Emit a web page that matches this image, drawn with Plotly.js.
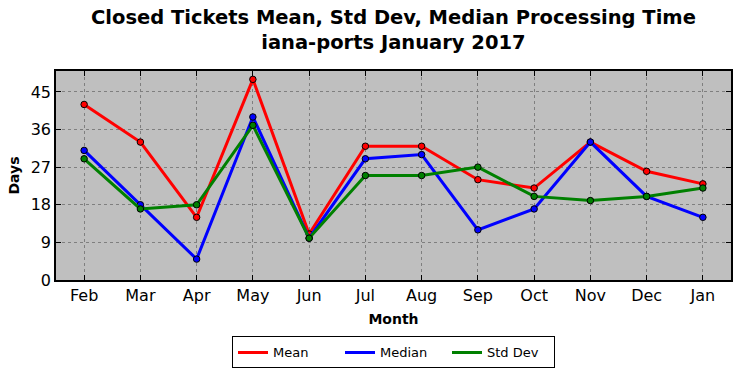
<!DOCTYPE html>
<html>
<head>
<meta charset="utf-8">
<script src="https://cdn.plot.ly/plotly-3.0.1.min.js"></script>
<style>html,body{margin:0;padding:0;background:#fff;}#chart{width:741px;height:378px;}</style>
</head>
<body>
<div id="chart"></div>
<script>
const months = ["Feb","Mar","Apr","May","Jun","Jul","Aug","Sep","Oct","Nov","Dec","Jan"];
const meanVals = [42,33,15,48,11,32,32,24,22,33,26,23];
const medianVals = [31,18,5,39,10,29,30,12,17,33,20,15];
const stdVals = [29,17,18,37,10,25,25,27,20,19,20,22];
const yTicks = [0,9,18,27,36,45];
const names = ['Mean','Median','Std Dev'];
const colors = ['#ff0000','#0000ff','#008000'];
const titleText = '<b>Closed Tickets Mean, Std Dev, Median Processing Time<br>iana-ports January 2017</b>';

function series(name, vals, color){
  return {
    x: months.map((m,i)=>i), y: vals, name: name, type: 'scatter', mode: 'lines+markers',
    line: {color: color, width: 3}, showlegend: false,
    marker: {color: color, size: 6.5, line: {color: '#000', width: 1}}
  };
}
function legendEntry(name, color){
  return {x: [null], y: [null], name: name, type: 'scatter', mode: 'lines', line: {color: color, width: 3}, showlegend: true};
}
const data = [series(names[0], meanVals, colors[0]), series(names[1], medianVals, colors[1]), series(names[2], stdVals, colors[2]),
  legendEntry(names[0], colors[0]), legendEntry(names[1], colors[1]), legendEntry(names[2], colors[2])];
const font = "DejaVu Sans, sans-serif";
const layout = {
  width: 741, height: 378,
  margin: {l:56, r:10, t:71, b:92},
  paper_bgcolor: '#ffffff', plot_bgcolor: '#bfbfbf',
  font: {family: font, color: '#000'},
  annotations: [{text: titleText, xref: 'paper', yref: 'paper', x: 0.5, xanchor: 'center', y: 1, yanchor: 'bottom', yshift: 15, showarrow: false, font: {size: 19.5, family: font}, align: 'center'}],
  xaxis: {
    range: [-0.5, 11.5], tickmode: 'array', tickvals: months.map((m,i)=>i), ticktext: months,
    showgrid: true, gridcolor: '#7f7f7f', griddash: 'dot', gridwidth: 1,
    ticks: 'inside', ticklen: 5, tickcolor: '#000', showline: true, linecolor: '#000', linewidth: 1.5, mirror: 'ticks',
    tickfont: {size: 16}, zeroline: false, automargin: false,
    title: {text: '<b>Month</b>', font: {size: 14}, standoff: 10}
  },
  yaxis: {
    range: [0, 50], tickmode: 'array', tickvals: yTicks,
    showgrid: true, gridcolor: '#7f7f7f', griddash: 'dot', gridwidth: 1,
    ticks: 'inside', ticklen: 5, tickcolor: '#000', showline: true, linecolor: '#000', linewidth: 1.5, mirror: 'ticks',
    tickfont: {size: 16}, zeroline: false, automargin: false,
    title: {text: '<b>Days</b>', font: {size: 14}, standoff: 8}
  },
  showlegend: true,
  legend: {orientation: 'h', x: 0.5, xanchor: 'center', y: -0.27, yanchor: 'top', bordercolor: '#000', borderwidth: 1, font: {size: 13}, bgcolor: '#fff', itemwidth: 30, entrywidth: 62, tracegroupgap: 0}
};
Plotly.newPlot('chart', data, layout, {displayModeBar: false});
</script>
</body>
</html>
